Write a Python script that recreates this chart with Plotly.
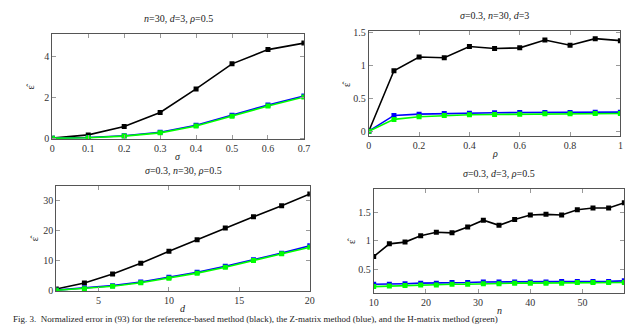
import plotly.graph_objects as go
from plotly.subplots import make_subplots

# Datos de cada panel ----------
sigma = [0, 0.1, 0.2, 0.3, 0.4, 0.5, 0.6, 0.7]
sigma_ref = [0.0, 0.16, 0.57, 1.26, 2.42, 3.65, 4.35, 4.67]
sigma_z = [0.0, 0.03, 0.12, 0.29, 0.63, 1.12, 1.63, 2.07]
sigma_h = [0.0, 0.02, 0.10, 0.26, 0.60, 1.08, 1.58, 2.02]

rho = [0, 0.1, 0.2, 0.3, 0.4, 0.5, 0.6, 0.7, 0.8, 0.9, 1.0]
rho_ref = [0.0, 0.92, 1.13, 1.12, 1.29, 1.26, 1.27, 1.39, 1.31, 1.41, 1.38]
rho_z = [0.0, 0.24, 0.26, 0.27, 0.275, 0.28, 0.285, 0.285, 0.285, 0.29, 0.29]
rho_h = [0.0, 0.18, 0.22, 0.24, 0.25, 0.255, 0.26, 0.265, 0.265, 0.27, 0.27]

d_vals = [2, 4, 6, 8, 10, 12, 14, 16, 18, 20]
d_ref = [0.5, 2.5, 5.5, 9.1, 13.1, 17.0, 20.9, 24.7, 28.4, 32.3]
d_z = [0.1, 0.8, 1.6, 2.8, 4.4, 6.1, 8.1, 10.3, 12.5, 15.0]
d_h = [0.05, 0.6, 1.4, 2.6, 4.1, 5.8, 7.8, 10.0, 12.3, 14.5]

n_vals = [10, 13, 16, 19, 22, 25, 28, 31, 34, 37, 40, 43, 46, 49, 52, 55, 58]
n_ref = [0.73, 0.95, 0.98, 1.09, 1.15, 1.14, 1.24, 1.36, 1.27, 1.37, 1.45, 1.46, 1.45, 1.54, 1.57, 1.57, 1.66]
n_z = [0.25, 0.25, 0.26, 0.27, 0.27, 0.28, 0.28, 0.29, 0.29, 0.29, 0.29, 0.29, 0.30, 0.30, 0.30, 0.30, 0.31]
n_h = [0.21, 0.22, 0.23, 0.24, 0.24, 0.25, 0.25, 0.26, 0.26, 0.27, 0.27, 0.27, 0.27, 0.28, 0.28, 0.28, 0.28]

titles = ["<i>n</i>=30, <i>d</i>=3, <i>ρ</i>=0.5", "<i>σ</i>=0.3, <i>n</i>=30, <i>d</i>=3",
          "<i>σ</i>=0.3, <i>n</i>=30, <i>ρ</i>=0.5", "<i>σ</i>=0.3, <i>d</i>=3, <i>ρ</i>=0.5"]
xlabels = ["<i>σ</i>", "<i>ρ</i>", "<i>d</i>", "<i>n</i>"]

FONT = "Liberation Serif, DejaVu Serif, serif"
colores = ["black", "#0000ff", "#00ff00"]

paneles = [
    (sigma, [sigma_ref, sigma_z, sigma_h]),
    (rho, [rho_ref, rho_z, rho_h]),
    (d_vals, [d_ref, d_z, d_h]),
    (n_vals, [n_ref, n_z, n_h]),
]

fig = make_subplots(rows=2, cols=2)

for i, (xs, series) in enumerate(paneles):
    r, c = i // 2 + 1, i % 2 + 1
    for ys, col in zip(series, colores):
        fig.add_trace(go.Scatter(x=xs, y=ys, mode="lines+markers",
                                 line=dict(color=col, width=1.6),
                                 marker=dict(symbol="square", size=5, color=col),
                                 showlegend=False), row=r, col=c)

# Dominios de cada eje en pixeles (640x324)
W, H = 640, 324
cajas = [(40, 296, 23, 131), (362, 618, 20, 128), (44, 302, 179, 287), (367, 622, 182, 289)]
rangos_x = [[0, 0.7], [0, 1], [2, 20], [10, 58]]
rangos_y = [[-0.06, 5.1], [-0.08, 1.52], [-0.2, 35], [0.1, 1.9]]
ticks_x = [dict(tickvals=sigma, ticktext=["0", "0.1", "0.2", "0.3", "0.4", "0.5", "0.6", "0.7"]),
           dict(tickvals=[0, 0.2, 0.4, 0.6, 0.8, 1], ticktext=["0", "0.2", "0.4", "0.6", "0.8", "1"]),
           dict(tickvals=[5, 10, 15, 20]),
           dict(tickvals=[10, 20, 30, 40, 50])]
ticks_y = [dict(tickvals=[0, 2, 4]),
           dict(tickvals=[0, 0.5, 1, 1.5], ticktext=["0", "0.5", "1", "1.5"]),
           dict(tickvals=[0, 10, 20, 30]),
           dict(tickvals=[0.5, 1, 1.5], ticktext=["0.5", "1", "1.5"])]

comun = dict(showline=True, linecolor="#555", linewidth=1, mirror="ticks", ticks="inside",
             ticklen=4, tickcolor="#999", showgrid=False, zeroline=False,
             tickfont=dict(family=FONT, size=10, color="#333"))

anotaciones = []
for i, (x0, x1, y0, y1) in enumerate(cajas):
    sx = "" if i == 0 else str(i + 1)
    fig.layout["xaxis" + sx].update(domain=[x0 / W, x1 / W], range=rangos_x[i], **ticks_x[i], **comun)
    fig.layout["yaxis" + sx].update(domain=[1 - y1 / H, 1 - y0 / H], range=rangos_y[i], **ticks_y[i], **comun)
    xm = (x0 + x1) / 2 / W
    anotaciones.append(dict(text=titles[i], x=xm, y=1 - (y0 - 16) / H, xref="paper", yref="paper",
                            xanchor="center", yanchor="middle",
                            showarrow=False, font=dict(family=FONT, size=10, color="#222")))
    anotaciones.append(dict(text=xlabels[i], x=xm, y=1 - (y1 + 18) / H, xref="paper", yref="paper",
                            xanchor="center", yanchor="middle",
                            showarrow=False, font=dict(family=FONT, size=10, color="#222")))
    anotaciones.append(dict(text="ε̂", x=(x0 - 22) / W, y=1 - (y0 + y1) / 2 / H, xref="paper", yref="paper",
                            xanchor="center", yanchor="middle",
                            showarrow=False, textangle=-90, font=dict(family=FONT, size=10, color="#222")))

anotaciones.append(dict(text="Fig. 3.  Normalized error in (93) for the reference-based method (black), the Z-matrix method (blue), and the H-matrix method (green)",
                        x=-0.003, y=0.004, xref="paper", yref="paper", xanchor="left", yanchor="bottom",
                        showarrow=False, font=dict(family=FONT, size=9, color="#222")))

fig.update_layout(width=W, height=H, margin=dict(l=0, r=0, t=0, b=0),
                  plot_bgcolor="white", paper_bgcolor="white", annotations=anotaciones)

fig.write_html("out.html")
